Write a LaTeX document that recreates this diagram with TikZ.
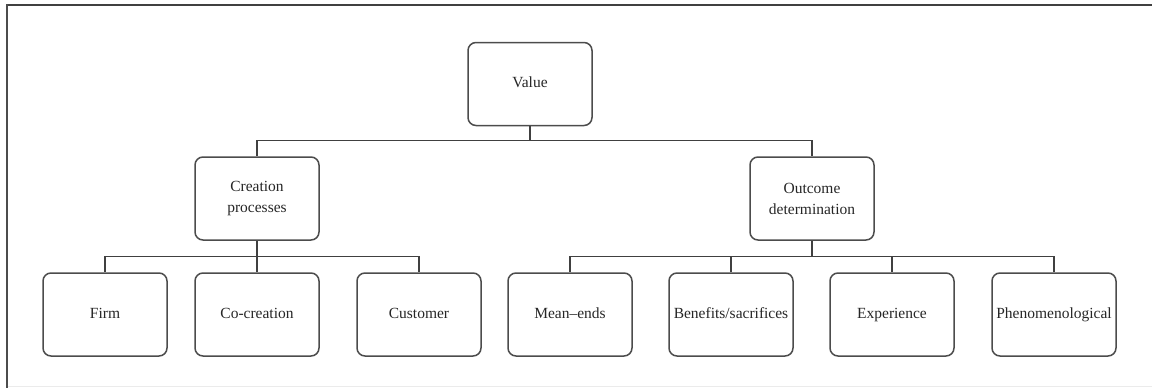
\documentclass[tikz,border=0pt]{standalone}
\usepackage{fontspec}
\setmainfont{Liberation Serif}
\begin{document}
\begin{tikzpicture}[x=1pt,y=-1pt,
  box/.style={draw=black!70, line width=1.5pt, rounded corners=8pt, minimum width=124pt, minimum height=83pt, inner sep=1pt, align=center, font=\fontsize{15.5}{21}\selectfont, text=black!85},
  sbox/.style={box, text height=10.5pt, text depth=3pt},
  link/.style={draw=black!75, line width=1.5pt}]
\useasboundingbox (0,0) rectangle (1152,388);
\draw[black!75, line width=1.8pt] (6,5) -- (1152,5);
\draw[black!70, line width=1.8pt] (7,4) -- (7,388);
\draw[black!8, line width=0.8pt] (8,386.5) -- (1152,386.5);
\node[sbox] (value) at (530,84) {Value};
\node[box] (creation) at (257,198.5) {Creation\\processes};
\node[box] (outcome) at (812,198.5) {Outcome\\determination};
\node[sbox] (firm) at (105,314.5) {Firm};
\node[sbox] (cocreation) at (257,314.5) {Co-creation};
\node[sbox] (customer) at (419,314.5) {Customer};
\node[sbox] (meanends) at (570,314.5) {Mean–ends};
\node[sbox] (benefits) at (731,314.5) {Benefits/sacrifices};
\node[sbox] (experience) at (892,314.5) {Experience};
\node[sbox] (phenom) at (1054,314.5) {Phenomenological};
\coordinate (j1) at (530,140.5);
\coordinate (j2) at (257,256.5);
\coordinate (j3) at (812,256.5);
\draw[link] (value.south) -- (j1);
\draw[link] (j1) -| (creation.north);
\draw[link] (j1) -| (outcome.north);
\draw[link] (creation.south) -- (j2);
\draw[link] (j2) -| (firm.north);
\draw[link] (j2) -- (cocreation.north);
\draw[link] (j2) -| (customer.north);
\draw[link] (outcome.south) -- (j3);
\draw[link] (j3) -| (meanends.north);
\draw[link] (j3) -| (benefits.north);
\draw[link] (j3) -| (experience.north);
\draw[link] (j3) -| (phenom.north);
\end{tikzpicture}
\end{document}
